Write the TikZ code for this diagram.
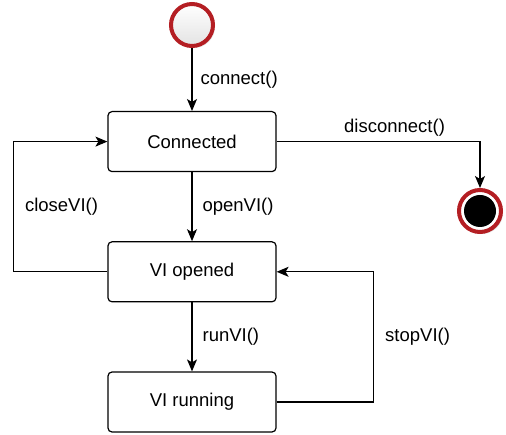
\documentclass[tikz,border=0pt]{standalone}
\usepackage{fontspec}
\setmainfont{Liberation Sans}
\usetikzlibrary{arrows.meta,positioning,shadows}
\definecolor{ringred}{RGB}{180,30,35}

\begin{document}
\begin{tikzpicture}[
    x=1pt, y=1pt,
    node distance=69pt,
    every node/.style={font=\fontsize{18.5}{22}\selectfont},
    state/.style={draw, rounded corners=4pt, align=center, line width=1.2pt, minimum width=168pt, minimum height=60pt},
    initial/.style={circle, draw=ringred, line width=4pt, minimum size=42pt, top color=white, bottom color=gray!22,
        drop shadow={shadow xshift=2pt, shadow yshift=-2pt, opacity=0.2}},
    final/.style={circle, draw=ringred, line width=4pt, minimum size=42pt, fill=white,
        drop shadow={shadow xshift=2pt, shadow yshift=-2pt, opacity=0.2},
        path picture={\fill[black] (path picture bounding box.center) circle (16pt);}},
    flow/.style={-{Stealth[length=12pt, width=10pt, inset=3pt]}, line width=1.2pt},
    trans/.style={inner sep=0pt}
]
\useasboundingbox (0,0) rectangle (506,-435);
\node[initial] (init) at (192,-25) {};
\node[state, below=63pt of init] (connected) {Connected};
\node[state, below=of connected] (opened) {VI opened};
\node[state, below=of opened] (running) {VI running};
\node[final] (final) at (480,-211) {};
\draw[flow] (init) -- node[trans, right=8pt] {connect()} (connected);
\draw[flow] (connected) -- node[trans, right=10pt] {openVI()} (opened);
\draw[flow] (opened) -- node[trans, right=10pt] {runVI()} (running);
\draw[flow] (connected.east) -| node[trans, pos=0.29, above=5pt] {disconnect()} (final.north);
\draw[flow] (opened.west) -- ++(-94,0) |- node[trans, pos=0.25, right=11pt] {closeVI()} (connected.west);
\draw[flow] (running.east) -- ++(97,0) |- node[trans, pos=0.25, right=11pt] {stopVI()} (opened.east);
\end{tikzpicture}
\end{document}
